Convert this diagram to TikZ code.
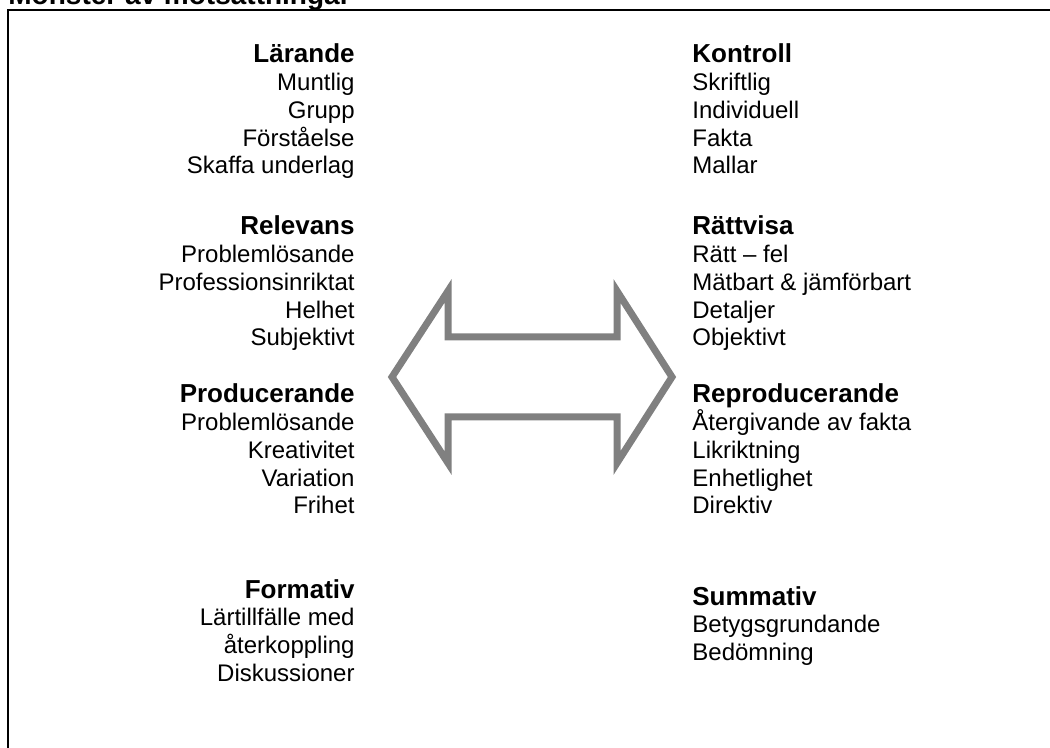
\documentclass[tikz,border=0pt]{standalone}
\usepackage{fontspec}
\setmainfont{Liberation Sans}
\definecolor{arrowgray}{RGB}{128,128,128}
\tikzset{
  lbl/.style={font=\fontsize{12}{14}\selectfont, inner sep=0pt},
  hd/.style={font=\bfseries\fontsize{13}{15}\selectfont, inner sep=0pt},
  ttl/.style={font=\bfseries\fontsize{14}{16}\selectfont, inner sep=0pt, anchor=base west},
  frame/.style={draw=black, line width=1pt},
  bigarrow/.style={draw=arrowgray, line width=3.5pt, miter limit=20}
}
\begin{document}
\begin{tikzpicture}[x=0.5pt,y=-0.5pt]
\useasboundingbox (0,0) rectangle (1050,748);
\clip (0,0) rectangle (1050,748);
% title and frame
\node[ttl] (title) at (8,5) {Mönster av motsättningar};
\draw[frame] (8,10) rectangle (1060,760);
% double arrow outline
\draw[bigarrow] (392,377) -- (448,291) -- (448,337) -- (617,337) -- (617,291)
  -- (672,377) -- (617,463) -- (617,417) -- (448,417) -- (448,463) -- cycle;
% left column (right aligned)
\node[hd, anchor=base east] (L1) at (355,63) {Lärande};
\foreach [count=\i] \t in {Muntlig,Grupp,Förståelse,Skaffa underlag}
  \node[lbl, anchor=base east] (L1-\i) at (355,{63+27.7*\i}) {\t};
\node[hd, anchor=base east] (L2) at (355,235) {Relevans};
\foreach [count=\i] \t in {Problemlösande,Professionsinriktat,Helhet,Subjektivt}
  \node[lbl, anchor=base east] (L2-\i) at (355,{235+27.7*\i}) {\t};
\node[hd, anchor=base east] (L3) at (355,403) {Producerande};
\foreach [count=\i] \t in {Problemlösande,Kreativitet,Variation,Frihet}
  \node[lbl, anchor=base east] (L3-\i) at (355,{403+27.7*\i}) {\t};
\node[hd, anchor=base east] (L4) at (355,598) {Formativ};
\foreach [count=\i] \t in {Lärtillfälle med,återkoppling,Diskussioner}
  \node[lbl, anchor=base east] (L4-\i) at (355,{598+27.7*\i}) {\t};
% right column (left aligned)
\node[hd, anchor=base west] (R1) at (692,63) {Kontroll};
\foreach [count=\i] \t in {Skriftlig,Individuell,Fakta,Mallar}
  \node[lbl, anchor=base west] (R1-\i) at (692,{63+27.7*\i}) {\t};
\node[hd, anchor=base west] (R2) at (692,235) {Rättvisa};
\foreach [count=\i] \t in {Rätt – fel,Mätbart \& jämförbart,Detaljer,Objektivt}
  \node[lbl, anchor=base west] (R2-\i) at (692,{235+27.7*\i}) {\t};
\node[hd, anchor=base west] (R3) at (692,403) {Reproducerande};
\foreach [count=\i] \t in {Återgivande av fakta,Likriktning,Enhetlighet,Direktiv}
  \node[lbl, anchor=base west] (R3-\i) at (692,{403+27.7*\i}) {\t};
\node[hd, anchor=base west] (R4) at (692,605) {Summativ};
\foreach [count=\i] \t in {Betygsgrundande,Bedömning}
  \node[lbl, anchor=base west] (R4-\i) at (692,{605+27.7*\i}) {\t};
\end{tikzpicture}
\end{document}
